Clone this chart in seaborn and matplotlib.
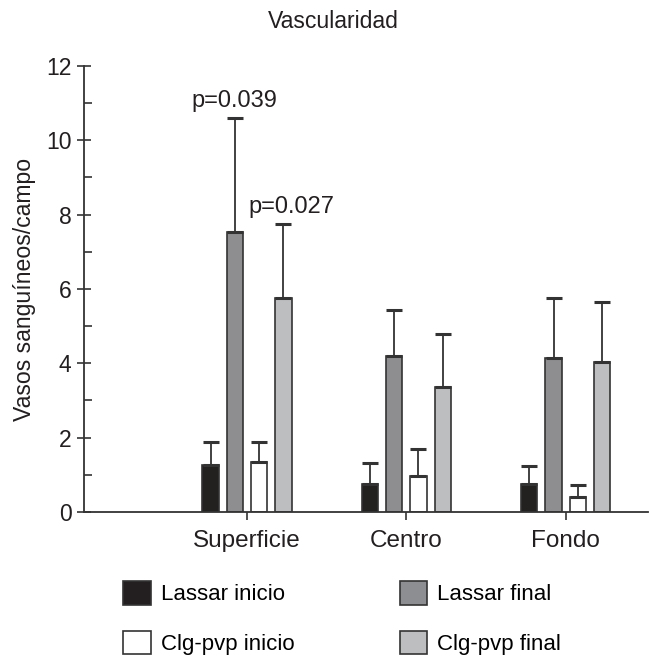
import numpy as np
import pandas as pd
import matplotlib
matplotlib.use('Agg')
import matplotlib.pyplot as plt
import seaborn as sns
from matplotlib.patches import Patch
from matplotlib.ticker import MultipleLocator

zonas = ['Superficie', 'Centro', 'Fondo']
grupos = ['Lassar inicio', 'Lassar final', 'Clg-pvp inicio', 'Clg-pvp final']
colores = ['#231f20', '#8d8e92', '#ffffff', '#bdbec0']

# media por zona, un valor por grupo
media_superficie = [1.26, 7.53, 1.34, 5.75]
media_centro = [0.74, 4.20, 0.97, 3.37]
media_fondo = [0.74, 4.15, 0.41, 4.04]
# desviacion (solo hacia arriba)
de_superficie = [0.61, 3.07, 0.55, 2.01]
de_centro = [0.57, 1.23, 0.72, 1.42]
de_fondo = [0.49, 1.60, 0.31, 1.60]

p_textos = ['p=0.039', 'p=0.027']

medias = [media_superficie, media_centro, media_fondo]
des = [de_superficie, de_centro, de_fondo]
df = pd.DataFrame({
    'zona': [z for z in zonas for g in grupos],
    'grupo': [g for z in zonas for g in grupos],
    'valor': [v for m in medias for v in m],
    'de': [v for d in des for v in d],
})

plt.rcParams['font.family'] = ['Liberation Sans', 'DejaVu Sans']
fig = plt.figure(figsize=(6.49, 6.56), dpi=100)
ax = fig.add_axes([0.1294, 0.2195, 0.8691, 0.680])

sns.barplot(data=df, x='zona', y='valor', hue='grupo', order=zonas, hue_order=grupos,
            palette=colores, width=0.61, gap=0.32, edgecolor='#333333', linewidth=1.2,
            errorbar=None, legend=False, ax=ax)
barras = list(ax.containers)

# barras de error hacia arriba
for g, cont in zip(grupos, barras):
    sub = df[df['grupo'] == g].set_index('zona').loc[zonas]
    xs = [p.get_x() + p.get_width() / 2 for p in cont]
    ys = sub['valor'].values
    ax.errorbar(xs, ys, yerr=[np.zeros(len(ys)), sub['de'].values], fmt='none',
                ecolor='#333333', elinewidth=1.3, capsize=5.5, capthick=2.2, zorder=1)

# valores p sobre Superficie
for k, txt, dx in zip([1, 3], p_textos, [0, 6]):
    p = barras[k][0]
    sub = df[(df['zona'] == 'Superficie') & (df['grupo'] == grupos[k])]
    top = sub['valor'].values[0] + sub['de'].values[0]
    ax.annotate(txt, xy=(p.get_x() + p.get_width() / 2, top), xytext=(dx, 4),
                textcoords='offset points', ha='center', va='bottom', fontsize=17, color='#231f20')

ax.set_xlim(-1.023, 2.517)
ax.set_ylim(0, 12)
ax.yaxis.set_major_locator(MultipleLocator(2))
ax.yaxis.set_minor_locator(MultipleLocator(1))
ax.tick_params(axis='y', which='major', direction='inout', length=10, width=1.2,
               labelsize=16.5, pad=4, colors='#333333', labelcolor='#231f20')
ax.tick_params(axis='y', which='minor', direction='in', length=5.5, width=1.2, colors='#333333')
ax.tick_params(axis='x', direction='out', length=6, width=1.2, labelsize=17.5, pad=7,
               colors='#333333', labelcolor='#231f20')
for s in ['top', 'right']:
    ax.spines[s].set_visible(False)
for s in ['left', 'bottom']:
    ax.spines[s].set_color('#333333')
    ax.spines[s].set_linewidth(1.3)
ax.set_xlabel('')
ax.set_ylabel('Vasos sanguíneos/campo', fontsize=16.6, color='#231f20', labelpad=7)

fig.text(333 / 649, 1 - 21 / 656, 'Vascularidad', ha='center', va='center',
         fontsize=16.6, color='#231f20')

orden = [0, 2, 1, 3]
handles = [Patch(facecolor=colores[i], edgecolor='#333333', linewidth=1.2) for i in orden]
fig.legend(handles, [grupos[i] for i in orden], ncol=2, loc='upper left',
           bbox_to_anchor=(123 / 649, 1 - 581 / 656), frameon=False,
           handlelength=1.25, handleheight=1.25, handletextpad=0.45, columnspacing=4.73,
           labelspacing=1.15, borderpad=0, borderaxespad=0, fontsize=16)

fig.savefig('out.png', dpi=100)
